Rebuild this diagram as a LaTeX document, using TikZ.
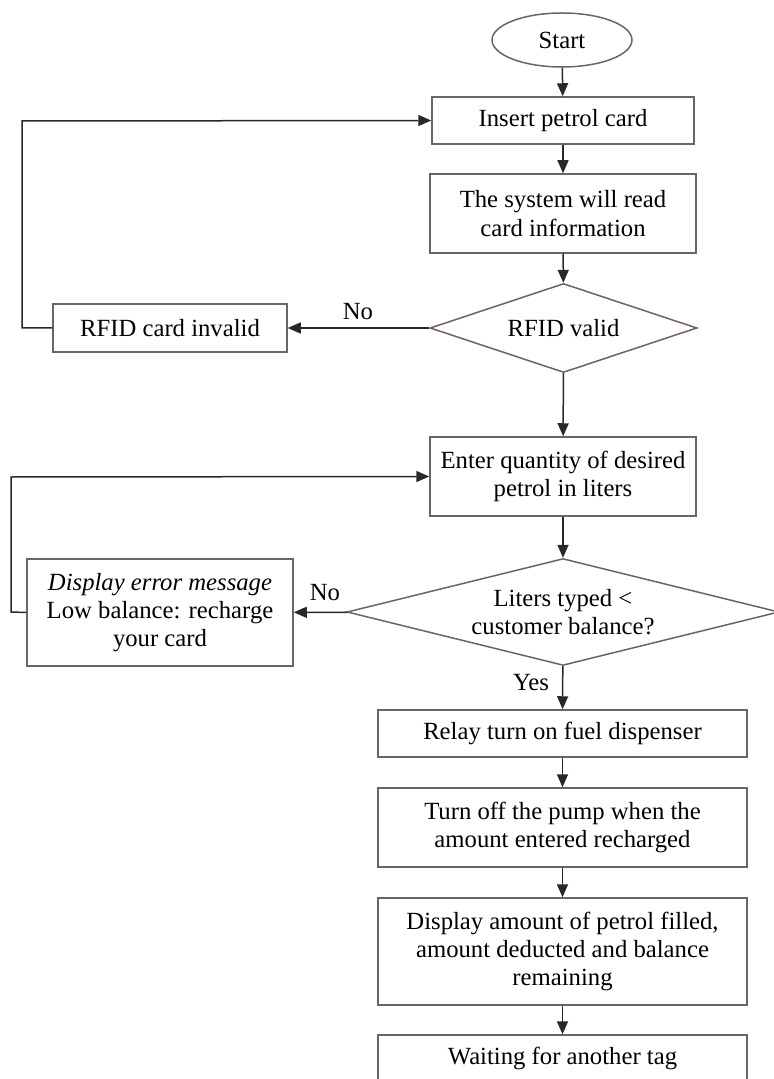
\documentclass[tikz,border=0pt]{standalone}
\usepackage{fontspec}
\setmainfont{Liberation Serif}
\usepackage{xcolor}
\usetikzlibrary{positioning, arrows.meta, shapes.geometric}

\definecolor{boxline}{RGB}{112,96,104}
\definecolor{wireline}{RGB}{40,40,40}

\begin{document}
\begin{tikzpicture}[
  x=0.5pt, y=-0.5pt,
  > = {Triangle[length=6.5pt, width=5.5pt]},
  font=\fontsize{12.35}{14.2}\selectfont,
  proc/.style={draw=boxline, line width=0.75pt, align=center, inner sep=0pt,
               minimum width=184.5pt, minimum height=23.5pt},
  term/.style={draw=boxline, line width=0.75pt, ellipse, inner sep=0pt,
               minimum width=70pt, minimum height=27pt},
  decision/.style={draw=boxline, line width=0.75pt, diamond, aspect=3,
                   align=center, inner sep=0pt},
  lbl/.style={inner sep=1pt},
  arr/.style={->, draw=wireline, line width=0.75pt}
]
  \useasboundingbox (0,0) rectangle (774,1079);

  % --- card check ---
  \node[term] (start) at (562,40) {Start};
  \node[proc, minimum width=131pt] (insert) at (563,120.5) {Insert petrol card};
  \node[proc, minimum width=133pt, minimum height=39.5pt] (readinfo) at (563,213.5)
    {The system will read\\card information};
  \node[decision, minimum width=133.5pt, minimum height=44.5pt] (rfidok) at (563.5,328)
    {RFID valid};
  \node[proc, minimum width=117pt, minimum height=24pt] (invalid) at (170,328)
    {RFID card invalid};

  \draw[arr] (start) -- (insert);
  \draw[arr] (insert) -- (readinfo);
  \draw[arr] (readinfo) -- (rfidok);
  \draw[arr] (rfidok) -- (invalid);
  \draw[arr] (invalid.west) -- (22,328) -- (22,121) -- (insert.west);
  \node[lbl] (no1) at (358,312) {No};

  % --- quantity and balance ---
  \node[proc, minimum width=133pt, minimum height=39.5pt] (qty) at (563,476.5)
    {Enter quantity of desired\\petrol in liters};
  \node[decision, minimum width=216pt, minimum height=52pt] (enough) at (563,612)
    {Liters typed \textless\\customer balance?};
  \node[proc, minimum width=133pt, minimum height=53.5pt] (lowbal) at (160,612.5)
    {\textit{Display error message}\\Low balance: recharge\\your card};

  \draw[arr] (rfidok) -- (qty);
  \draw[arr] (qty) -- (enough);
  \draw[arr] (enough) -- (lowbal);
  \draw[arr] (lowbal.west) -- (11,612) -- (11,477) -- (qty.west);
  \node[lbl] (no2) at (325,593) {No};

  % --- dispensing ---
  \node[proc] (relay) at (562.5,733.5) {Relay turn on fuel dispenser};
  \node[proc, minimum height=39.5pt] (pumpoff) at (562.5,827.5)
    {Turn off the pump when the\\amount entered recharged};
  \node[proc, minimum height=53.5pt] (showbill) at (562.5,951.5)
    {Display amount of petrol filled,\\amount deducted and balance\\remaining};
  \node[proc] (waittag) at (562.5,1058.5) {Waiting for another tag};

  \draw[arr] (enough) -- (relay);
  \node[lbl] (yes) at (531,683) {Yes};
  \draw[arr] (relay) -- (pumpoff);
  \draw[arr] (pumpoff) -- (showbill);
  \draw[arr] (showbill) -- (waittag);
\end{tikzpicture}
\end{document}
